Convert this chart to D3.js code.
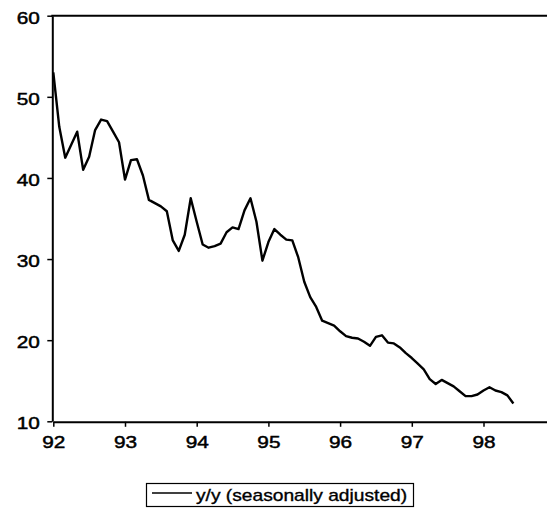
<!DOCTYPE html>
<html>
<head>
<meta charset="utf-8">
<script src="https://cdn.jsdelivr.net/npm/d3@7/dist/d3.min.js"></script>
<style>
  html, body { margin: 0; padding: 0; background: #fff; }
  svg { display: block; }
  text { font-family: "Liberation Sans", Arial, sans-serif; fill: #000; }
</style>
</head>
<body>
<svg id="chart" width="547" height="514"></svg>
<script>
// Monthly data, Jan 1992 .. Jun 1998
const startYear = 92;
const values = [
  53.0, 46.3, 42.5, 44.1, 45.7, 41.0, 42.6, 45.9, 47.2, 47.0, 45.7, 44.4,
  39.8, 42.2, 42.3, 40.3, 37.3, 36.9, 36.5, 35.9, 32.3, 31.0, 33.0, 37.5,
  34.6, 31.8, 31.4, 31.6, 31.9, 33.3, 33.9, 33.7, 36.0, 37.5, 34.6, 29.8,
  32.1, 33.7, 33.0, 32.4, 32.3, 30.2, 27.2, 25.3, 24.1, 22.4, 22.1, 21.8,
  21.1, 20.5, 20.3, 20.2, 19.8, 19.3, 20.4, 20.6, 19.7, 19.6, 19.1, 18.4,
  17.8, 17.1, 16.4, 15.2, 14.6, 15.1, 14.7, 14.3, 13.7, 13.1, 13.1, 13.3,
  13.8, 14.2, 13.8, 13.6, 13.2, 12.2
];
const xTicks = [92, 93, 94, 95, 96, 97, 98];
const yTicks = [10, 20, 30, 40, 50, 60];
const seriesName = "y/y (seasonally adjusted)";

const data = values.map((v, i) => ({ t: startYear + i / 12, v }));

const svg = d3.select("#chart");
const x = d3.scaleLinear().domain([92, 99]).range([53.3, 555.2]);
const y = d3.scaleLinear().domain([10, 60]).range([421.3, 15.7]);

const sx = 1.3;

// y axis
const gy = svg.append("g").attr("transform", `translate(${52.3},0)`)
  .call(d3.axisLeft(y).tickValues(yTicks).tickSize(5).tickSizeOuter(0));
gy.select(".domain").attr("stroke", "#000").attr("stroke-width", 2);
gy.selectAll(".tick line").attr("stroke", "#000").attr("stroke-width", 1.5);
gy.selectAll(".tick text")
  .attr("x", 0).attr("dy", "0.46em")
  .attr("text-anchor", "end")
  .attr("font-size", 16)
  .attr("stroke", "#000").attr("stroke-width", 0.45)
  .attr("transform", `translate(-12.5,0) scale(${sx},1)`);

// x axis
const gx = svg.append("g").attr("transform", `translate(0,${421.8})`)
  .call(d3.axisBottom(x).tickValues(xTicks).tickSize(5).tickSizeOuter(0).tickFormat(d3.format("d")));
gx.select(".domain").attr("stroke", "#000").attr("stroke-width", 2);
gx.selectAll(".tick line").attr("stroke", "#000").attr("stroke-width", 1.5);
gx.selectAll(".tick text")
  .attr("y", 0).attr("dy", "0")
  .attr("text-anchor", "middle")
  .attr("font-size", 16)
  .attr("stroke", "#000").attr("stroke-width", 0.45)
  .attr("transform", `translate(0,26.5) scale(${sx},1)`);

// top frame line
svg.append("line")
  .attr("x1", x(92) - 2).attr("x2", 547)
  .attr("y1", y(60)).attr("y2", y(60))
  .attr("stroke", "#000").attr("stroke-width", 2);

// series line
const line = d3.line().x(d => x(d.t)).y(d => y(d.v));
svg.append("path").datum(data)
  .attr("d", line)
  .attr("fill", "none")
  .attr("stroke", "#000")
  .attr("stroke-width", 2.4)
  .attr("stroke-linejoin", "round");

// legend
const lg = svg.append("g").attr("transform", "translate(146,483)");
lg.append("rect").attr("x", 0.5).attr("y", 0.5).attr("width", 267).attr("height", 23)
  .attr("fill", "#fff").attr("stroke", "#000").attr("stroke-width", 1.2);
lg.append("line").attr("x1", 6).attr("x2", 46).attr("y1", 10).attr("y2", 10)
  .attr("stroke", "#000").attr("stroke-width", 1.5);
lg.append("text").text(seriesName)
  .attr("x", 0).attr("y", 0)
  .attr("font-size", 16)
  .attr("stroke", "#000").attr("stroke-width", 0.35)
  .attr("transform", "translate(50,17.5) scale(1.2,1)");
</script>
</body>
</html>
